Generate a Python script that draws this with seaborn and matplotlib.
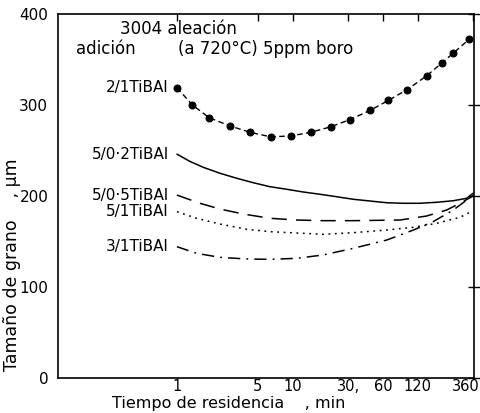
import numpy as np
import pandas as pd
import matplotlib
matplotlib.use("Agg")
import matplotlib.pyplot as plt
import matplotlib.transforms as mtransforms
import seaborn as sns

# Data
t_21 = [1, 1.36, 1.9, 2.87, 4.27, 6.45, 9.6, 14.3, 21.2, 31.2, 46.4, 66.8, 97.5, 143, 193, 243, 332]
v_21 = [319, 300, 286, 277, 270, 265, 266, 270, 276, 284, 294, 305, 317, 332, 346, 357, 372]

t_502 = [1, 1.295, 1.69, 2.35, 3.28, 4.56, 6.36, 8.86, 12.3, 17.2, 23.9, 33.3, 46.4, 64.7, 90, 125, 175, 243, 318, 360]
v_502 = [246, 238, 231.5, 225, 219.5, 214.6, 210.2, 207.4, 204.4, 201.9, 199.2, 196.4, 194.5, 192.6, 192, 192, 193.1, 194.8, 197.5, 203]

t_505 = [1, 1.58, 2.35, 3.74, 6.36, 10.8, 18.3, 33.3, 84.3, 143, 213, 278, 351, 360]
v_505 = [201, 192, 185.7, 180.2, 175.5, 173.6, 172.9, 172.9, 173.6, 178, 184.6, 192, 199.2, 201]

t_51 = [1, 1.48, 2.35, 4.0, 6.36, 12.3, 18.3, 33.3, 64.7, 110, 175, 278, 360]
v_51 = [182.7, 175.5, 169.2, 163.4, 160.8, 159, 157.9, 159.7, 162.6, 165.6, 170, 176.6, 183.8]

t_31 = [1, 1.48, 2.35, 4.0, 6.36, 10.8, 18.3, 33.3, 64.7, 110, 163, 243, 318, 360]
v_31 = [144.3, 137, 132.6, 130.8, 130.4, 131.5, 135.2, 142.5, 151.6, 162.6, 171.8, 184.6, 195.6, 201]

labels = ["2/1TiBAl", "5/0·2TiBAl", "5/0·5TiBAl", "5/1TiBAl", "3/1TiBAl"]
label_y = [319, 246, 201, 183, 144]

xticks = [1, 5, 10, 30, 60, 120, 360]
xticklabels = ["1", "5", "10", "30,", "60", "120", "360"]
yticks = [0, 100, 200, 300, 400]

sns.set_theme(style="white")
plt.rcParams["font.family"] = ["DejaVu Sans"]

fig = plt.figure(figsize=(4.81, 4.13), dpi=100)
ax = fig.add_axes([58/481, 35/413, (474-58)/481, (378-14)/413])

def df(t, v):
    return pd.DataFrame({"t": t, "v": v})

sns.lineplot(data=df(t_21, v_21), x="t", y="v", ax=ax, color="black", lw=1.0,
             linestyle=(0, (4, 2.5)), marker="o", markersize=5,
             markeredgecolor="black", markerfacecolor="black")
sns.lineplot(data=df(t_502, v_502), x="t", y="v", ax=ax, color="black", lw=1.1)
sns.lineplot(data=df(t_505, v_505), x="t", y="v", ax=ax, color="black", lw=1.1,
             linestyle=(0, (10, 6)))
sns.lineplot(data=df(t_51, v_51), x="t", y="v", ax=ax, color="black", lw=1.1,
             linestyle=(0, (1.2, 3)))
sns.lineplot(data=df(t_31, v_31), x="t", y="v", ax=ax, color="black", lw=1.1,
             linestyle=(0, (8, 4, 1.2, 4)))

ax.set_xscale("log")
ax.set_xlim(0.094, 367)
ax.set_ylim(0, 400)
ax.set_xticks(xticks)
ax.set_xticklabels(xticklabels)
ax.xaxis.set_minor_locator(matplotlib.ticker.NullLocator())
ax.set_yticks(yticks)
ax.tick_params(direction="in", length=5, width=1, color="black", labelsize=11,
               labelcolor="black", top=True, right=True, pad=3)
ax.tick_params(axis="x", labelsize=10.5, pad=1)
ax.tick_params(axis="y", direction="inout", length=8)
for s in ax.spines.values():
    s.set_color("black")
    s.set_linewidth(1.2)

# shift the last x tick label slightly left so it stays inside the figure
lastlab = ax.get_xticklabels()[-1]
lastlab.set_transform(lastlab.get_transform() +
                      mtransforms.ScaledTranslation(-7/100, 0, fig.dpi_scale_trans))

for lab, yv in zip(labels, label_y):
    ax.text(0.85, yv, lab, ha="right", va="center", fontsize=11, color="black")

ax.text(0.32, 383, "3004 aleación", fontsize=12, color="black", va="center")
ax.text(0.135, 362, "adición", fontsize=12, color="black", va="center")
ax.text(1.02, 362, "(a 720°C) 5ppm boro", fontsize=12, color="black", va="center")

ax.set_xlabel("Tiempo de residencia    , min", fontsize=11.5, color="black")
ax.xaxis.set_label_coords(0.41, -0.05)
ax.set_ylabel("Tamaño de grano    , µm", fontsize=12.5, color="black")
ax.yaxis.set_label_coords(-0.09, 0.31)
ax.grid(False)

fig.savefig("out.png", dpi=100, facecolor="white")
